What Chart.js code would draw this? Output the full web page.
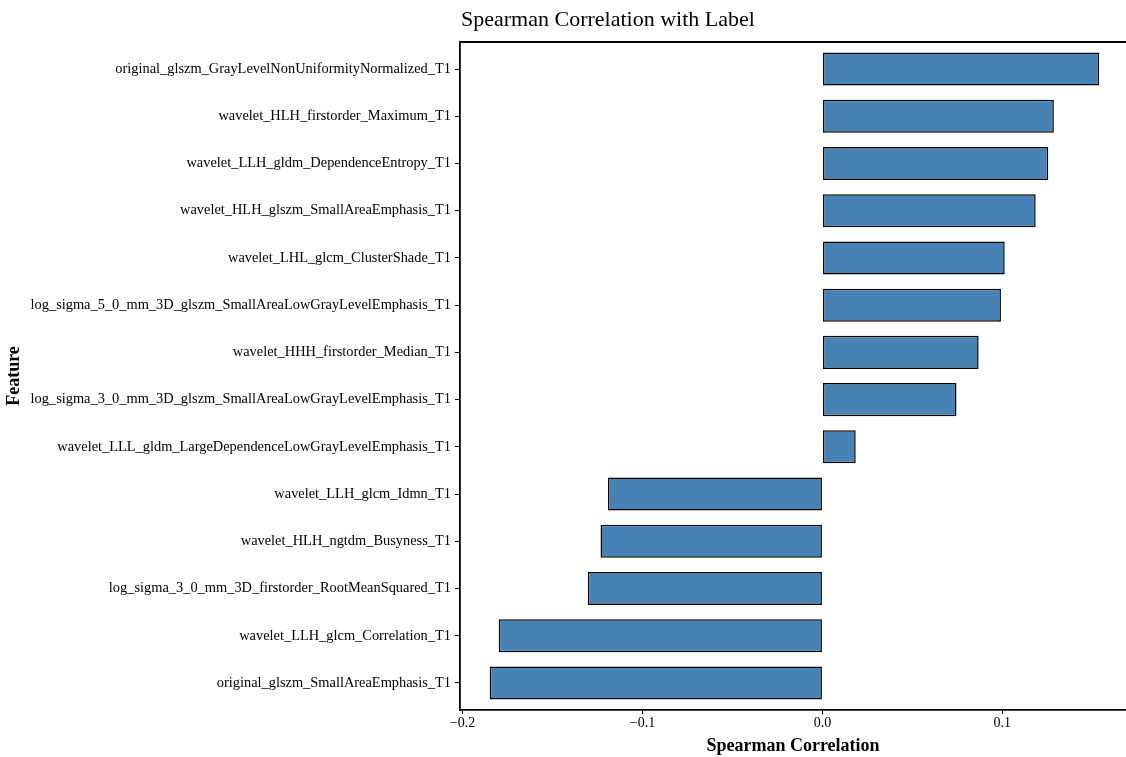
<!DOCTYPE html>
<html>
<head>
<meta charset="utf-8">
<script src="https://cdn.jsdelivr.net/npm/chart.js@4.4.1/dist/chart.umd.min.js"></script>
<style>
    html, body { margin: 0; padding: 0; background: #ffffff; }
    #wrap { width: 1126px; height: 757px; position: relative; }
</style>
</head>
<body>
<div id="wrap"><canvas id="corrChart"></canvas></div>
<script>
const features = [
    'original_glszm_GrayLevelNonUniformityNormalized_T1',
    'wavelet_HLH_firstorder_Maximum_T1',
    'wavelet_LLH_gldm_DependenceEntropy_T1',
    'wavelet_HLH_glszm_SmallAreaEmphasis_T1',
    'wavelet_LHL_glcm_ClusterShade_T1',
    'log_sigma_5_0_mm_3D_glszm_SmallAreaLowGrayLevelEmphasis_T1',
    'wavelet_HHH_firstorder_Median_T1',
    'log_sigma_3_0_mm_3D_glszm_SmallAreaLowGrayLevelEmphasis_T1',
    'wavelet_LLL_gldm_LargeDependenceLowGrayLevelEmphasis_T1',
    'wavelet_LLH_glcm_Idmn_T1',
    'wavelet_HLH_ngtdm_Busyness_T1',
    'log_sigma_3_0_mm_3D_firstorder_RootMeanSquared_T1',
    'wavelet_LLH_glcm_Correlation_T1',
    'original_glszm_SmallAreaEmphasis_T1'
];
const spearman = [0.1537, 0.1286, 0.1255, 0.1185, 0.1013, 0.0992, 0.0868, 0.0745, 0.0185,
    -0.1192, -0.1233, -0.1304, -0.1799, -0.1849];
const xTicks = [-0.2, -0.1, 0.0, 0.1];

const serif = "'Liberation Serif', 'Times New Roman', serif";

// features sit at integer positions on a linear y axis (0 at the top)
const barData = spearman.map((v, i) => ({ x: v, y: i }));

// title left-aligned with the plot area plus the top frame line
const frameAndTitle = {
    id: 'frameAndTitle',
    afterDraw(chart) {
        const { ctx, chartArea } = chart;
        ctx.save();
        ctx.strokeStyle = '#000000';
        ctx.lineWidth = 1.8;
        ctx.beginPath();
        ctx.moveTo(chartArea.left - 0.9, chartArea.top);
        ctx.lineTo(chartArea.right, chartArea.top);
        ctx.stroke();
        ctx.fillStyle = '#000000';
        ctx.font = '22px ' + serif;
        ctx.textAlign = 'left';
        ctx.textBaseline = 'middle';
        ctx.fillText('Spearman Correlation with Label', chartArea.left + 1, 20);
        ctx.restore();
    }
};

new Chart(document.getElementById('corrChart'), {
    type: 'bar',
    data: {
        datasets: [{
            label: 'Spearman Correlation',
            data: barData,
            backgroundColor: '#4682B4',
            borderColor: '#000000',
            borderWidth: 1.5,
            borderSkipped: false,
            categoryPercentage: 1.0,
            barPercentage: 0.7
        }]
    },
    options: {
        indexAxis: 'y',
        responsive: true,
        maintainAspectRatio: false,
        animation: false,
        layout: { padding: { top: 42, left: 0, right: 0, bottom: 0 } },
        plugins: {
            legend: { display: false },
            title: { display: false },
            tooltip: { enabled: false }
        },
        scales: {
            x: {
                min: -0.2014,
                max: 0.1687,
                afterBuildTicks: (scale) => {
                    scale.ticks = xTicks.map(v => ({ value: v }));
                },
                afterFit: (scale) => { scale.height = 47; },
                border: { display: true, color: '#000000', width: 1.8 },
                grid: { drawOnChartArea: false, drawTicks: true, tickLength: 4, color: '#000000' },
                ticks: {
                    color: '#000000',
                    padding: 1,
                    maxRotation: 0,
                    font: { family: serif, size: 14 },
                    callback: (v) => (v < 0 ? '\u2212' : '') + Math.abs(v).toFixed(1)
                },
                title: {
                    display: true,
                    text: 'Spearman Correlation',
                    color: '#000000',
                    padding: { top: 1, bottom: 0 },
                    font: { family: serif, size: 18, weight: 'bold' }
                }
            },
            y: {
                type: 'linear',
                reverse: true,
                offset: false,
                min: -0.572,
                max: features.length - 1 + 0.572,
                afterBuildTicks: (scale) => {
                    scale.ticks = features.map((f, i) => ({ value: i }));
                },
                afterFit: (scale) => { scale.width = 460; },
                border: { display: true, color: '#000000', width: 1.8 },
                grid: { offset: false, drawOnChartArea: false, drawTicks: true, tickLength: 5, color: '#000000' },
                ticks: {
                    color: '#000000',
                    padding: 4,
                    autoSkip: false,
                    font: { family: serif, size: 14.4 },
                    callback: (v) => features[v]
                },
                title: {
                    display: true,
                    text: 'Feature',
                    color: '#000000',
                    padding: { top: 4, bottom: 0 },
                    font: { family: serif, size: 18, weight: 'bold' }
                }
            }
        }
    },
    plugins: [frameAndTitle]
});
</script>
</body>
</html>
